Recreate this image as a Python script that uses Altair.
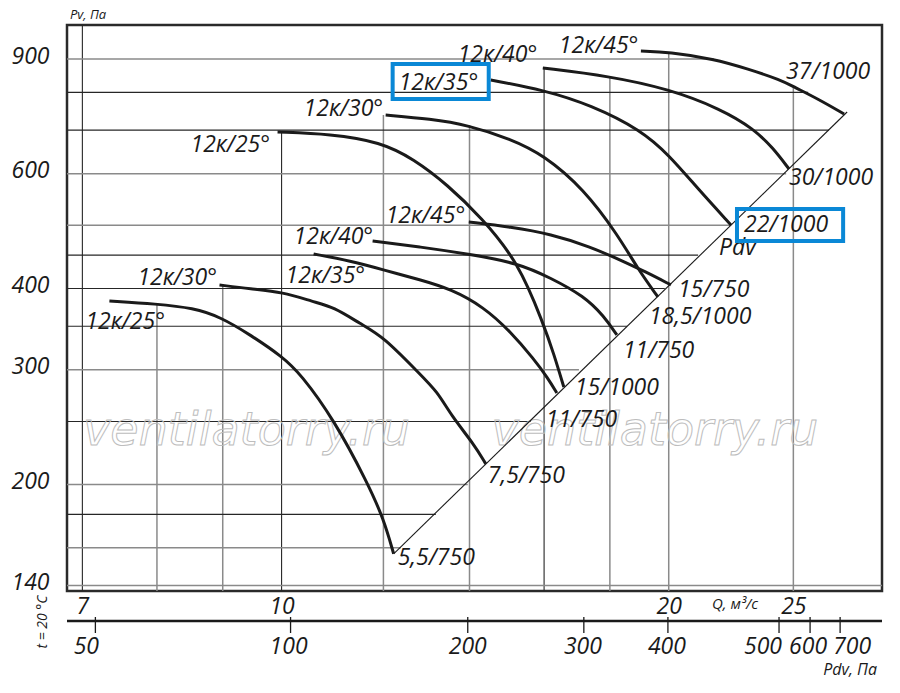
import altair as alt
import pandas as pd

# ---------------- scale extents ----------------
Q_MIN, Q_MAX = 6.81, 29.3
PV_MIN, PV_MAX = 137.3, 1015.0

# ---------------- fan curves: Q (m3/s) and Pv (Pa) ----------------
l25_q = [7.347, 7.993, 8.541, 8.964, 9.459, 10.02, 10.346, 10.976, 11.666, 12.005, 12.222]
l25_pv = [382.7, 378.7, 373.3, 361.6, 339.4, 314.0, 295.7, 252.2, 201.1, 177.1, 156.6]

l30_q = [8.948, 9.459, 10.02, 10.590, 10.976, 11.520, 12.005, 12.760, 13.225, 13.537, 14.106, 14.413]
l30_pv = [405.0, 399.3, 395.1, 381.4, 374.7, 352.8, 337.0, 297.8, 277.5, 255.8, 230.9, 215.2]

l35_q = [10.590, 11.316, 12.005, 12.828, 13.537, 14.361, 15.073, 15.708, 16.107, 16.369]
l35_pv = [451.9, 440.8, 427.1, 412.2, 399.3, 374.7, 343.0, 311.8, 291.5, 276.5]

l40_q = [11.770, 12.828, 13.956, 15.264, 16.194, 17.180, 17.807, 18.227]
l40_pv = [473.1, 463.2, 451.9, 437.7, 415.1, 389.5, 362.9, 339.4]

l45_q = [13.981, 15.073, 16.194, 17.397, 18.260, 19.200, 20.080]
l45_pv = [506.0, 497.1, 484.9, 463.2, 444.0, 424.0, 405.0]

u25_q = [9.928, 10.917, 11.941, 12.669, 13.465, 14.285, 15.264, 15.993, 16.281, 16.575]
u25_pv = [695.4, 690.5, 671.2, 632.1, 576.6, 515.0, 440.8, 351.6, 317.3, 282.4]

u30_q = [12.048, 13.060, 13.956, 15.073, 15.993, 17.180, 18.260, 18.925, 19.617]
u30_pv = [738.5, 728.1, 712.8, 678.4, 641.1, 568.5, 483.2, 428.5, 388.2]

u35_q = [14.543, 15.993, 17.397, 19.028, 20.007, 21.080, 22.358]
u35_pv = [835.6, 806.6, 765.0, 700.3, 641.1, 568.5, 500.6]

u40_q = [15.963, 17.968, 20.007, 21.962, 23.299, 24.108, 24.807]
u40_pv = [871.8, 847.5, 809.5, 754.2, 702.8, 657.1, 610.1]

u45_q = [19.028, 20.007, 21.687, 23.051, 24.456, 25.031, 26.132, 27.378]
u45_pv = [925.8, 922.5, 900.0, 868.8, 835.6, 815.2, 781.4, 741.0]

# dynamic-pressure line (Pdv)
diag_q = [12.222, 27.525]
diag_pv = [156.6, 746.3]

# ---------------- curve labels ----------------
label_text = ["12к/25°", "12к/30°", "12к/35°", "12к/40°", "12к/45°",
              "12к/25°", "12к/30°", "12к/35°", "12к/40°", "12к/45°",
              "5,5/750", "7,5/750", "11/750", "15/1000", "11/750",
              "18,5/1000", "15/750", "Pdv", "22/1000", "30/1000", "37/1000"]
label_q = [7.038, 7.725, 10.072, 10.217, 12.048,
           8.495, 10.402, 12.333, 13.707, 16.427,
           12.311, 14.465, 16.048, 16.906, 18.424,
           19.302, 20.332, 21.883, 22.886, 24.807, 24.676]
label_pv = [355.3, 415.1, 418.1, 479.9, 516.8,
            664.2, 754.2, 826.8, 912.8, 942.3,
            154.4, 206.2, 251.4, 281.4, 320.8,
            361.6, 397.9, 461.5, 500.6, 591.0, 859.6]

# highlighted labels (boxes)
box_q1 = [12.20, 22.60]
box_q2 = [14.49, 27.33]
box_pv1 = [781.4, 473.1]
box_pv2 = [884.3, 529.7]

# ---------------- grid lines (clipped by the curve envelope) ----------------
grid_v_dark_q = [7, 10, 16]
grid_v_dark_top = [PV_MAX, 695.4, 871.8]
grid_v_gray_q = [8, 9, 12, 14, 18, 20, 25]
grid_v_gray_top = [378.7, 405.0, 738.5, 712.8, 847.5, 922.5, 815.2]

grid_h_dark_pv = [800, 700, 450, 400, 350, 250, 180]
grid_h_dark_end = [25.67, 26.65, 21.08, 19.86, 18.56, 15.62, 13.18]
grid_h_gray_pv = [900, 600, 500, 300, 200, 160, 140]
grid_h_gray_end = [21.69, 24.68, 22.36, 17.03, 13.956, 12.38, Q_MAX]

# ---------------- axes ----------------
q_ticks = [7, 10, 20, 25]
pv_ticks = [140, 200, 300, 400, 600, 900]

pdv_labels = ["50", "100", "200", "300", "400", "500", "600", "700"]
pdv_tick_q = [7.165, 10.162, 13.956, 17.180, 19.971, 24.367, 25.760, 27.183]
pdv_label_q = [7.050, 10.126, 13.956, 17.151, 19.935, 23.678, 25.668, 27.775]

# watermark
wm_text = ["ventilatorry.ru", "ventilatorry.ru"]
wm_q = [9.392, 19.51]
wm_pv = [230.1, 230.1]

# ---------------- build tables ----------------
curve_defs = [("L25", l25_q, l25_pv), ("L30", l30_q, l30_pv), ("L35", l35_q, l35_pv),
              ("L40", l40_q, l40_pv), ("L45", l45_q, l45_pv), ("U25", u25_q, u25_pv),
              ("U30", u30_q, u30_pv), ("U35", u35_q, u35_pv), ("U40", u40_q, u40_pv),
              ("U45", u45_q, u45_pv)]
rows = []
for name, qs, ps in curve_defs:
    for q, p in zip(qs, ps):
        rows.append({"curve": name, "q": q, "pv": p})
curves_df = pd.DataFrame(rows)

diag_df = pd.DataFrame({"q": diag_q, "pv": diag_pv})
labels_df = pd.DataFrame({"t": label_text, "q": label_q, "pv": label_pv})
boxes_df = pd.DataFrame({"q1": box_q1, "q2": box_q2, "pv1": box_pv1, "pv2": box_pv2})
gvd_df = pd.DataFrame({"q": grid_v_dark_q, "top": grid_v_dark_top, "bot": PV_MIN})
gvg_df = pd.DataFrame({"q": grid_v_gray_q, "top": grid_v_gray_top, "bot": PV_MIN})
ghd_df = pd.DataFrame({"pv": grid_h_dark_pv, "q2": grid_h_dark_end, "q1": Q_MIN})
ghg_df = pd.DataFrame({"pv": grid_h_gray_pv, "q2": grid_h_gray_end, "q1": Q_MIN})
pdv_tick_df = pd.DataFrame({"q": pdv_tick_q})
pdv_lab_df = pd.DataFrame({"q": pdv_label_q, "t": pdv_labels})
wm_df = pd.DataFrame({"t": wm_text, "q": wm_q, "pv": wm_pv})

W, H = 815, 566
FONT = "Open Sans"
INK = "#1a1a1a"

xs = alt.Scale(type="log", domain=[Q_MIN, Q_MAX], nice=False, zero=False)
ys = alt.Scale(type="log", domain=[PV_MIN, PV_MAX], nice=False, zero=False)

x_axis = alt.Axis(values=q_ticks, ticks=False, domain=False, grid=False, format="d",
                  labelFont=FONT, labelFontStyle="italic", labelFontSize=23,
                  labelColor=INK, labelPadding=4, labelFlush=False, title=None)
y_axis = alt.Axis(values=pv_ticks, ticks=False, domain=False, grid=False, format="d",
                  labelFont=FONT, labelFontStyle="italic", labelFontSize=23,
                  labelColor=INK, labelPadding=18, labelOffset=-3, labelFlush=False,
                  title=None)


def X(field):
    return alt.X(field, type="quantitative", scale=xs, axis=x_axis)


def Y(field):
    return alt.Y(field, type="quantitative", scale=ys, axis=y_axis)


grid_vg = alt.Chart(gvg_df).mark_rule(color="#8a8a8a", strokeWidth=1.5).encode(
    x=X("q"), y=Y("top"), y2="bot:Q")
grid_vd = alt.Chart(gvd_df).mark_rule(color="#262626", strokeWidth=1.1).encode(
    x=X("q"), y=Y("top"), y2="bot:Q")
grid_hg = alt.Chart(ghg_df).mark_rule(color="#8a8a8a", strokeWidth=1.5).encode(
    x=X("q1"), x2="q2:Q", y=Y("pv"))
grid_hd = alt.Chart(ghd_df).mark_rule(color="#262626", strokeWidth=1.1).encode(
    x=X("q1"), x2="q2:Q", y=Y("pv"))

watermark = alt.Chart(wm_df).mark_text(
    align="center", baseline="alphabetic", font="DejaVu Sans", fontStyle="italic",
    fontSize=46, fillOpacity=0, stroke="#bdbdbd", strokeWidth=1).encode(
    x=X("q"), y=Y("pv"), text="t:N")

diag = alt.Chart(diag_df).mark_line(color=INK, strokeWidth=1.1).encode(
    x=X("q"), y=Y("pv"))

curves = alt.Chart(curves_df).mark_line(
    color=INK, strokeWidth=3, interpolate="basis").encode(
    x=X("q"), y=Y("pv"), detail="curve:N")

labels = alt.Chart(labels_df).mark_text(
    align="left", baseline="middle", font=FONT, fontStyle="italic",
    fontSize=23, color=INK).encode(x=X("q"), y=Y("pv"), text="t:N")

boxes = alt.Chart(boxes_df).mark_rect(
    fillOpacity=0, stroke="#0a88d6", strokeWidth=4).encode(
    x=X("q1"), x2="q2:Q", y=Y("pv1"), y2="pv2:Q")

pdv_line = alt.Chart(pd.DataFrame({"k": [0]})).mark_rule(color=INK, strokeWidth=2.5).encode(
    x=alt.value(0), x2=alt.value(W), y=alt.value(596))
pdv_ticks = alt.Chart(pdv_tick_df).mark_rule(color=INK, strokeWidth=1.3).encode(
    x=X("q"), y=alt.value(592), y2=alt.value(608))
pdv_text = alt.Chart(pdv_lab_df).mark_text(
    align="center", baseline="middle", font=FONT, fontStyle="italic",
    fontSize=23, color=INK).encode(x=X("q"), y=alt.value(622), text="t:N")


def note(txt, x, y, size, align="left", angle=0):
    return alt.Chart(pd.DataFrame({"t": [txt]})).mark_text(
        align=align, baseline="middle", font=FONT, fontStyle="italic",
        fontSize=size, color=INK, angle=angle).encode(
        x=alt.value(x), y=alt.value(y), text="t:N")


notes = [
    note("Pv, Па", 3, -10, 13),
    note("Q, м³/с", 645, 579, 15),
    note("Pdv, Па", 810, 645, 16, align="right"),
    note("t = 20 °C", -24, 597, 14, align="center", angle=270),
]

chart = alt.layer(
    grid_vg, grid_vd, grid_hg, grid_hd, watermark, diag, curves, labels, boxes,
    pdv_line, pdv_ticks, pdv_text, *notes
).properties(
    width=W, height=H,
    autosize=alt.AutoSizeParams(type="none"),
    padding={"left": 59, "top": 17, "right": 10, "bottom": 94},
    background="white",
).configure_view(stroke="#2a2a2a", strokeWidth=2.5)

chart.save("out.html", embed_options={"renderer": "svg", "actions": False})
